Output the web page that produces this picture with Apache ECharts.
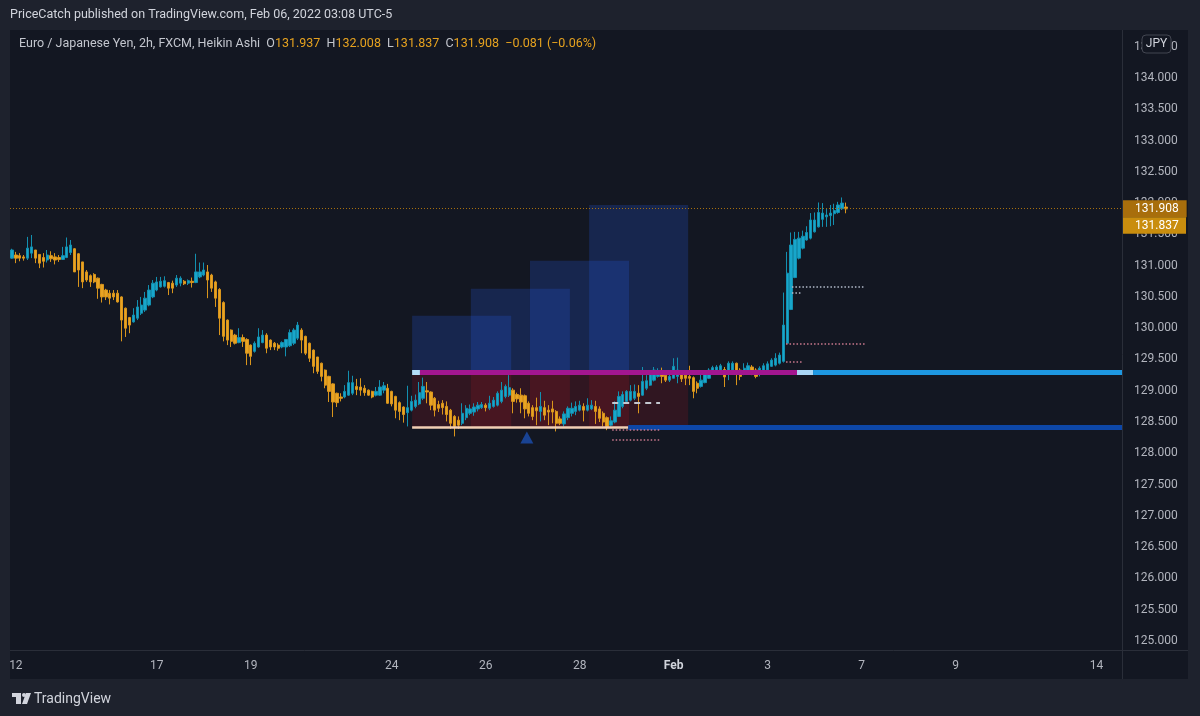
<!DOCTYPE html>
<html>
<head>
<meta charset="utf-8">
<script src="https://cdn.jsdelivr.net/npm/echarts@6/dist/echarts.min.js"></script>
<style>
html,body{margin:0;padding:0;background:#1e222d;}
#chart{width:1200px;height:716px;}
</style>
</head>
<body>
<div id="chart"></div>
<script>
// ---------- DATA (EUR/JPY, 2h, Heikin Ashi) ----------
const haOpen = [
131.12,131.17,131.16,131.14,131.12,131.20,131.25,131.18,131.13,131.09,
131.16,131.14,131.13,131.10,131.13,131.21,131.27,131.19,131.06,130.90,
130.84,130.86,130.80,130.70,130.61,130.56,130.56,130.56,130.50,130.32,
130.17,130.10,130.16,130.24,130.29,130.37,130.50,130.61,130.66,130.67,
130.73,130.72,130.69,130.72,130.75,130.72,130.75,130.73,130.82,130.85,
130.90,130.85,130.74,130.62,130.41,130.13,129.97,129.89,129.77,129.85,
129.82,129.73,129.63,129.70,129.77,129.89,129.81,129.76,129.73,129.70,
129.70,129.72,129.76,129.84,129.97,129.87,129.76,129.65,129.54,129.44,
129.33,129.23,129.11,128.96,128.90,128.90,128.93,128.96,129.07,129.06,
129.04,129.01,128.99,128.93,128.93,129.01,129.04,128.99,128.91,128.81,
128.74,128.65,128.69,128.75,128.79,128.88,129.00,128.98,128.88,128.78,
128.80,128.75,128.69,128.59,128.53,128.48,128.57,128.64,128.66,128.71,
128.73,128.77,128.72,128.75,128.77,128.83,128.91,128.93,129.01,128.94,
128.93,128.92,128.80,128.73,128.73,128.67,128.73,128.69,128.71,128.67,
128.55,128.47,128.57,128.64,128.67,128.69,128.75,128.69,128.71,128.75,
128.71,128.64,128.57,128.45,128.50,128.59,128.75,128.83,128.85,128.88,
128.96,128.93,129.04,129.09,129.17,129.23,129.28,129.25,129.17,129.20,
129.23,129.31,129.25,129.23,129.21,129.12,129.07,129.13,129.20,129.28,
129.31,129.33,129.34,129.30,129.33,129.44,129.33,129.28,129.31,129.38,
129.33,129.28,129.31,129.33,129.39,129.41,129.44,129.47,129.76,130.30,
130.81,131.12,131.28,131.41,131.44,131.54,131.62,131.74,131.78,131.80,
131.83,131.85,131.91,131.937
];
const haClose = [
131.25,131.12,131.12,131.12,131.28,131.30,131.12,131.04,131.07,131.17,
131.11,131.09,131.10,131.16,131.30,131.33,130.90,130.93,130.74,130.77,
130.74,130.74,130.64,130.50,130.50,130.48,130.50,130.42,130.13,130.00,
130.05,130.21,130.34,130.37,130.48,130.61,130.72,130.74,130.75,130.76,
130.64,130.64,130.80,130.80,130.71,130.76,130.73,130.90,130.90,130.93,
130.77,130.64,130.48,130.16,129.87,129.81,129.79,129.76,129.85,129.79,
129.60,129.55,129.76,129.86,129.89,129.68,129.70,129.70,129.68,129.77,
129.82,129.93,129.97,130.05,129.81,129.60,129.52,129.39,129.31,129.23,
129.09,128.99,128.82,128.81,128.88,128.99,129.13,129.13,129.02,129.01,
128.97,128.93,128.90,128.99,129.06,129.08,128.80,128.79,128.69,128.67,
128.62,128.73,128.83,128.85,128.97,129.07,128.98,128.77,128.69,128.72,
128.73,128.62,128.48,128.43,128.45,128.64,128.72,128.71,128.74,128.77,
128.78,128.73,128.80,128.85,128.96,129.01,129.07,129.05,128.83,128.87,
128.82,128.71,128.64,128.59,128.68,128.75,128.61,128.66,128.66,128.48,
128.48,128.63,128.72,128.72,128.75,128.77,128.69,128.77,128.77,128.67,
128.56,128.50,128.43,128.52,128.69,128.91,128.94,128.99,128.99,128.99,
128.91,129.15,129.16,129.28,129.33,129.32,129.23,129.17,129.23,129.39,
129.33,129.19,129.20,129.20,128.99,129.04,129.17,129.28,129.33,129.37,
129.38,129.40,129.22,129.44,129.44,129.30,129.23,129.36,129.40,129.31,
129.23,129.36,129.40,129.43,129.49,129.52,129.57,130.05,130.88,131.33,
131.42,131.44,131.47,131.53,131.73,131.73,131.85,131.84,131.81,131.84,
131.88,131.97,132.00,131.908
];
const haLow = [
131.11,131.04,131.07,131.08,131.09,131.12,131.04,130.96,130.97,131.05,
131.06,131.02,131.06,131.09,131.12,131.17,130.90,130.66,130.64,130.74,
130.66,130.72,130.47,130.41,130.45,130.38,130.45,130.41,129.79,129.86,
129.92,130.09,130.13,130.21,130.26,130.35,130.48,130.59,130.65,130.65,
130.53,130.56,130.66,130.67,130.69,130.69,130.65,130.72,130.80,130.83,
130.48,130.58,130.34,129.89,129.79,129.73,129.70,129.74,129.76,129.70,
129.41,129.41,129.61,129.69,129.76,129.60,129.65,129.65,129.64,129.68,
129.55,129.70,129.73,129.81,129.60,129.57,129.46,129.28,129.27,129.15,
129.04,128.82,128.58,128.74,128.83,128.88,128.92,128.93,128.93,128.92,
128.92,128.92,128.88,128.91,128.92,128.96,128.79,128.75,128.56,128.53,
128.49,128.43,128.67,128.72,128.77,128.85,128.80,128.69,128.59,128.66,
128.62,128.51,128.39,128.27,128.39,128.45,128.53,128.61,128.60,128.67,
128.71,128.67,128.69,128.73,128.75,128.80,128.88,128.90,128.64,128.81,
128.64,128.56,128.59,128.53,128.45,128.51,128.53,128.45,128.48,128.35,
128.45,128.43,128.53,128.59,128.61,128.67,128.51,128.67,128.69,128.47,
128.50,128.43,128.37,128.43,128.48,128.58,128.72,128.80,128.83,128.85,
128.64,128.92,129.01,129.08,129.15,129.21,129.12,129.14,129.14,129.20,
129.12,129.14,129.09,129.09,128.88,128.96,129.05,129.12,129.19,129.26,
129.28,129.30,129.06,129.17,129.30,129.09,129.17,129.25,129.29,129.25,
129.20,129.23,129.30,129.31,129.38,129.39,129.42,129.45,129.75,130.29,
130.80,131.10,131.26,131.40,131.42,131.53,131.61,131.62,131.62,131.63,
131.65,131.83,131.89,131.837
];
const haHigh = [
131.27,131.22,131.20,131.17,131.46,131.49,131.25,131.18,131.20,131.25,
131.23,131.20,131.17,131.30,131.45,131.41,131.28,131.20,131.06,130.93,
130.86,130.88,130.81,130.71,130.63,130.61,130.61,130.61,130.51,130.33,
130.18,130.32,130.45,130.50,130.58,130.69,130.77,130.82,130.82,130.83,
130.74,130.76,130.85,130.83,130.77,130.78,130.81,131.19,131.05,131.05,
131.01,130.87,130.76,130.64,130.43,130.14,129.98,129.91,130.00,129.90,
129.84,129.74,129.79,130.00,129.97,129.92,129.82,129.78,129.76,129.79,
129.82,129.98,130.00,130.10,130.00,129.88,129.77,129.66,129.54,129.45,
129.34,129.24,129.12,128.97,128.96,129.09,129.32,129.24,129.19,129.20,
129.09,129.02,129.00,129.06,129.17,129.14,129.11,129.00,128.92,128.83,
128.75,129.08,128.92,128.94,129.14,129.21,129.14,128.99,128.90,128.84,
128.85,128.83,128.71,128.61,128.59,128.80,128.77,128.78,128.80,128.82,
128.82,128.80,128.92,128.90,128.99,129.14,129.10,129.25,129.04,128.97,
129.04,128.94,128.83,128.77,128.89,128.98,128.84,128.77,128.84,128.69,
128.59,128.67,128.75,128.81,128.83,128.84,128.80,128.88,128.85,128.84,
128.75,128.67,128.59,128.59,128.83,128.99,128.99,129.01,129.09,129.10,
129.09,129.38,129.25,129.31,129.38,129.36,129.37,129.28,129.26,129.52,
129.53,129.32,129.28,129.40,129.23,129.15,129.28,129.31,129.36,129.40,
129.41,129.43,129.38,129.47,129.47,129.45,129.36,129.44,129.45,129.41,
129.36,129.39,129.44,129.47,129.52,129.60,129.61,130.57,131.22,131.53,
131.54,131.54,131.56,131.63,131.84,131.85,132.01,132.00,131.91,131.97,
131.99,132.02,132.09,132.008
];

// time scale: bar-slot index of each day label
const timeTickIndex = [1, 37, 61, 97, 121, 145, 169, 193, 217, 241, 277];
const timeTickText  = ['12','17','19','24','26','28','Feb','3','7','9','14'];
const priceTicks = [125,125.5,126,126.5,127,127.5,128,128.5,129,129.5,130,130.5,131,131.5,132,132.5,133,133.5,134,134.5];

// drawing-tool overlays (bar index ranges, prices)
const zoneBoxes = [   // [fromBar, toBar, topPrice]
  [102.2, 127.5, 130.20],
  [117.2, 142.5, 130.63],
  [132.3, 157.6, 131.08],
  [147.4, 172.7, 131.97]
];
const rangeHigh = 129.30;
const rangeLow = 128.42;
const rangeHighSegments = [[102.2,104.2],[104.2,200.5],[200.5,204.6],[204.6,283.5]];
const rangeLowSegments  = [[102.2,157.4],[157.4,283.5]];
const dashLevels = [[153.3,165.5,128.81]];
const pinkLevels = [[153.3,165.5,128.37],[153.3,165.5,128.22],[197.7,217.9,129.75],[197.7,201.8,129.47]];
const greyLevels = [[199.2,217.9,130.665],[199.2,201.8,130.56]];
const signalPoint = [131.5, 128.254];
const lastPrice = 131.908;
const lastLow = 131.837;
const legendO = '131.937', legendH = '132.008', legendL = '131.837', legendC = '131.908', legendChg = '\u22120.081 (\u22120.06%)';

// ---------- CHART ----------
const FONT = 'Roboto, "Noto Sans", sans-serif';
const chart = echarts.init(document.getElementById('chart'), null, {renderer: 'canvas'});

const candleData = haOpen.map((o, i) => [i, o, haClose[i], haLow[i], haHigh[i]]);

const boxAreas = [];
zoneBoxes.forEach(b => {
  boxAreas.push([{coord: [b[0], rangeHigh], itemStyle: {color: 'rgba(41,98,255,0.2)'}}, {coord: [b[1], b[2]]}]);
});
zoneBoxes.forEach(b => {
  boxAreas.push([{coord: [b[0], rangeLow], itemStyle: {color: 'rgba(185,20,32,0.18)'}}, {coord: [b[1], rangeHigh]}]);
});

const hiStyles = [
  {color: '#b3def7', width: 5},
  {color: '#a3168f', width: 5},
  {color: '#a9d6f5', width: 5},
  {color: '#1e98e2', width: 5}
];
const loStyles = [
  {color: '#f2cfb4', width: 2.5},
  {color: '#0d47a8', width: 5}
];
const lineItems = [];
rangeHighSegments.forEach((s, k) => lineItems.push([{coord: [s[0], rangeHigh], lineStyle: Object.assign({type: 'solid'}, hiStyles[k])}, {coord: [s[1], rangeHigh]}]));
rangeLowSegments.forEach((s, k) => lineItems.push([{coord: [s[0], rangeLow], lineStyle: Object.assign({type: 'solid'}, loStyles[k])}, {coord: [s[1], rangeLow]}]));
dashLevels.forEach(s => lineItems.push([{coord: [s[0], s[2]], lineStyle: {color: '#c3c7cf', width: 2, type: [6, 5]}}, {coord: [s[1], s[2]]}]));
pinkLevels.forEach(s => lineItems.push([{coord: [s[0], s[2]], lineStyle: {color: '#c9788d', width: 1.5, type: [1.5, 2]}}, {coord: [s[1], s[2]]}]));
greyLevels.forEach(s => lineItems.push([{coord: [s[0], s[2]], lineStyle: {color: '#b4bccb', width: 1.5, type: [1.5, 2]}}, {coord: [s[1], s[2]]}]));

const option = {
  backgroundColor: '#1e222d',
  animation: false,
  textStyle: {fontFamily: FONT},
  title: [
    {
      text: 'PriceCatch published on TradingView.com, Feb 06, 2022 03:08 UTC-5',
      left: 10, top: 8, padding: 0,
      textStyle: {color: '#d1d4dc', fontSize: 12.5, fontWeight: 'normal', fontFamily: FONT}
    },
    {
      text: '{n|Euro / Japanese Yen, 2h, FXCM, Heikin Ashi}  {n|O}{v|' + legendO + '}  {n|H}{v|' + legendH + '}  {n|L}{v|' + legendL + '}  {n|C}{v|' + legendC + '}  {v|' + legendChg + '}',
      left: 19, top: 37, padding: 0,
      textStyle: {
        fontSize: 12.5, fontFamily: FONT, fontWeight: 'normal',
        rich: {
          n: {color: '#c3c6ce', fontSize: 12.5, fontFamily: FONT, fontWeight: 'normal'},
          v: {color: '#e6a21f', fontSize: 12.5, fontFamily: FONT, fontWeight: 'normal'}
        }
      }
    }
  ],
  grid: {left: 10, right: 78, top: 30, bottom: 66, containLabel: false},
  xAxis: {
    type: 'value', min: -0.5, max: 283.5,
    axisLine: {show: false}, axisTick: {show: false}, splitLine: {show: false},
    axisLabel: {
      customValues: timeTickIndex,
      color: '#b2b5be', fontSize: 12, margin: 10, fontFamily: FONT,
      showMinLabel: true, showMaxLabel: true,
      formatter: v => {
        const k = timeTickIndex.indexOf(Math.round(v));
        if (k < 0) return '';
        const t = timeTickText[k];
        return t === 'Feb' ? '{b|Feb}' : t;
      },
      rich: {b: {fontWeight: 'bold', color: '#d1d4dc', fontSize: 12, fontFamily: FONT}}
    }
  },
  yAxis: {
    type: 'value', position: 'right', min: 124.856, max: 134.767, scale: true,
    axisLine: {show: false}, axisTick: {show: false}, splitLine: {show: false},
    axisLabel: {
      customValues: priceTicks,
      color: '#b2b5be', fontSize: 12, margin: 12, fontFamily: FONT,
      formatter: v => (Math.abs(v * 2 - Math.round(v * 2)) < 1e-6 ? v.toFixed(3) : '')
    }
  },
  series: [
    {
      type: 'line', name: 'zones', data: [], z: 1, silent: true,
      markArea: {silent: true, data: boxAreas}
    },
    {
      type: 'candlestick', name: 'EURJPY', z: 2,
      data: candleData,
      encode: {x: 0, y: [1, 2, 3, 4]},
      barWidth: 2.8,
      itemStyle: {
        color: '#18a6cb', color0: '#e8a424',
        borderColor: '#1390b0', borderColor0: '#d9951c', borderWidth: 1
      }
    },
    {
      type: 'line', name: 'levels', data: [], z: 3, silent: true,
      markLine: {
        silent: true, symbol: ['none', 'none'], animation: false,
        label: {show: false},
        data: lineItems.concat([
          {
            yAxis: lastPrice,
            lineStyle: {color: '#a8700f', width: 1, type: [1, 2]},
            label: {
              show: true, position: 'end', distance: 1,
              formatter: lastPrice.toFixed(3),
              color: '#ffffff', fontSize: 12, fontFamily: FONT, lineHeight: 12,
              backgroundColor: '#a86e0c', padding: [3, 8, 2, 12]
            }
          }
        ])
      }
    },
    {
      type: 'scatter', name: 'signal', z: 4, silent: true,
      data: [signalPoint],
      symbol: 'triangle', symbolSize: [13, 12],
      itemStyle: {color: '#1c4fb0'}
    }
  ]
};
chart.setOption(option);

// decorations: frame, separators, JPY badge, second price badge, watermark
const yLast = chart.convertToPixel({yAxisIndex: 0}, lastPrice);
chart.setOption({
  graphic: [
    {type: 'rect', z: -10, silent: true, shape: {x: 10, y: 30, width: 1178, height: 649}, style: {fill: '#131722'}},
    {type: 'line', z: 50, silent: true, shape: {x1: 10, y1: 650.5, x2: 1188, y2: 650.5}, style: {stroke: '#2a2e39', lineWidth: 1}},
    {type: 'line', z: 50, silent: true, shape: {x1: 1122.5, y1: 30, x2: 1122.5, y2: 679}, style: {stroke: '#2a2e39', lineWidth: 1}},
    {type: 'rect', z: 60, silent: true, shape: {x: 1142, y: 35, width: 29, height: 18, r: 4}, style: {fill: '#131722', stroke: '#434651', lineWidth: 1}},
    {type: 'text', z: 61, silent: true, x: 1156.5, y: 44, style: {text: 'JPY', fill: '#d1d4dc', font: '12px ' + FONT, align: 'center', verticalAlign: 'middle'}},
    {type: 'rect', z: 60, silent: true, shape: {x: 1123, y: yLast + 8.5, width: 63, height: 16.5}, style: {fill: '#c98d0e'}},
    {type: 'text', z: 61, silent: true, x: 1135, y: yLast + 17, style: {text: lastLow.toFixed(3), fill: '#ffffff', font: '12px ' + FONT, align: 'left', verticalAlign: 'middle'}},
    // TradingView watermark logo
    {type: 'rect', z: 60, silent: true, shape: {x: 12, y: 693, width: 9, height: 4}, style: {fill: '#d1d4dc'}},
    {type: 'rect', z: 60, silent: true, shape: {x: 16, y: 693, width: 5, height: 11}, style: {fill: '#d1d4dc'}},
    {type: 'circle', z: 60, silent: true, shape: {cx: 24, cy: 695, r: 2}, style: {fill: '#d1d4dc'}},
    {type: 'polygon', z: 60, silent: true, shape: {points: [[26, 693], [31, 693], [27, 704], [22, 704]]}, style: {fill: '#d1d4dc'}},
    {type: 'text', z: 60, silent: true, x: 34, y: 699, style: {text: 'TradingView', fill: '#d1d4dc', font: '14px ' + FONT, align: 'left', verticalAlign: 'middle'}}
  ]
});
</script>
</body>
</html>
